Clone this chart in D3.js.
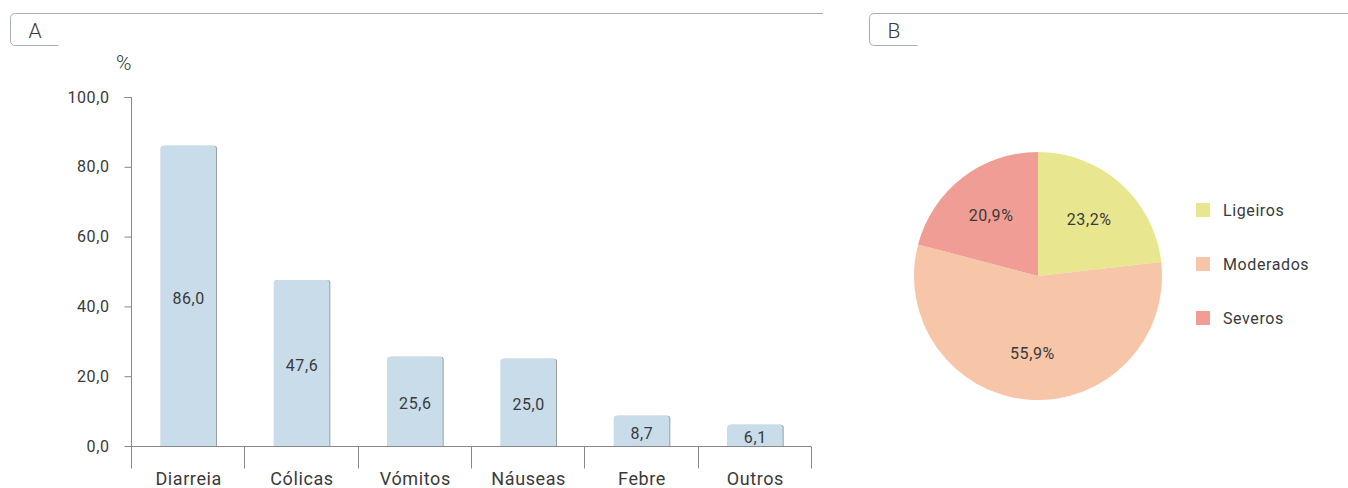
<!DOCTYPE html>
<html>
<head>
<meta charset="utf-8">
<script src="https://cdn.jsdelivr.net/npm/d3@7"></script>
<style>
  body { margin: 0; background: #fff; }
  text { font-family: Roboto, "Open Sans", sans-serif; fill: #3a3a3a; letter-spacing: 0.6px; }
</style>
</head>
<body>
<div id="vis"></div>
<script>
// bar chart (A)
var categories = ["Diarreia", "Cólicas", "Vómitos", "Náuseas", "Febre", "Outros"];
var values = [86.0, 47.6, 25.6, 25.0, 8.7, 6.1];
var yTicks = [0, 20, 40, 60, 80, 100];

// pie chart (B)
var pieLabels = ["Ligeiros", "Moderados", "Severos"];
var pieValues = [23.2, 55.9, 20.9];
var pieColors = ["#e8e78f", "#f7c5a8", "#f09d96"];

var W = 1348, H = 488;
var svg = d3.select("#vis").append("svg")
  .attr("width", W).attr("height", H);

var fmt = function(v){ return v.toFixed(1).replace(".", ","); };

// panel headers
function panelHeader(x0, x1, label) {
  var g = svg.append("g");
  g.append("path")
    .attr("d", "M" + x1 + ",13.5 H" + (x0 + 5) + " Q" + x0 + ",13.5 " + x0 + ",18.5 V40.5 Q" + x0 + ",45.5 " + (x0 + 5) + ",45.5 H" + (x0 + 48))
    .attr("fill", "none").attr("stroke", "#a8adb3").attr("stroke-width", 1);
  g.append("text").attr("x", x0 + 18).attr("y", 38)
    .attr("font-size", 21).attr("font-weight", 300).text(label);
}
panelHeader(10.5, 823, "A");
panelHeader(869.5, 1348, "B");

// ---- bars
var x = d3.scaleBand().domain(categories).range([131, 811]).paddingInner(0.5).paddingOuter(0.25);
var y = d3.scaleLinear().domain([0, 100]).range([446, 97]);

var yAxis = svg.append("g").attr("transform", "translate(131.5,0)")
  .call(d3.axisLeft(y).tickValues(yTicks).tickSize(7).tickFormat(fmt));
yAxis.select(".domain").attr("stroke", "#888").attr("d", "M-7,97.5H0V446.5");
yAxis.selectAll(".tick line").attr("stroke", "#888");
yAxis.selectAll(".tick text").attr("font-size", 16).attr("fill", "#3a3a3a")
  .attr("font-family", "Roboto, sans-serif").attr("x", -22);

svg.append("text").attr("x", 124).attr("y", 70).attr("text-anchor", "middle")
  .attr("font-size", 21).attr("font-weight", 300).text("%");

function barPath(bx, bw, by) {
  var r = 3;
  return "M" + bx + ",446V" + (by + r) + "Q" + bx + "," + by + " " + (bx + r) + "," + by +
    "H" + (bx + bw - r) + "Q" + (bx + bw) + "," + by + " " + (bx + bw) + "," + (by + r) + "V446Z";
}

var bars = svg.append("g");
bars.selectAll("path.shadow")
  .data(values).enter().append("path")
  .attr("class", "shadow")
  .attr("d", function(d, i){ return barPath(x(categories[i]) + 2, x.bandwidth() - 1, y(d)); })
  .attr("fill", "#9a9fa4");
bars.selectAll("path.bar")
  .data(values).enter().append("path")
  .attr("class", "bar")
  .attr("d", function(d, i){ return barPath(x(categories[i]) + 1, x.bandwidth() - 1, y(d)); })
  .attr("fill", "#c8dcea");
bars.selectAll("text")
  .data(values).enter().append("text")
  .attr("x", function(d, i){ return x(categories[i]) + x.bandwidth() / 2 + 1; })
  .attr("y", function(d){ return (y(d) + 446) / 2 + 8; })
  .attr("text-anchor", "middle").attr("font-size", 16)
  .text(fmt);

var xAxis = svg.append("g").attr("transform", "translate(0,446.5)");
xAxis.append("line").attr("x1", 131).attr("x2", 811).attr("stroke", "#888");
var bounds = d3.range(categories.length + 1).map(function(i){ return 131 + i * (680 / categories.length); });
xAxis.selectAll("line.t").data(bounds).enter().append("line")
  .attr("class", "t")
  .attr("x1", function(d){ return Math.round(d) + 0.5; })
  .attr("x2", function(d){ return Math.round(d) + 0.5; })
  .attr("y1", 0).attr("y2", 22).attr("stroke", "#888");
xAxis.selectAll("text").data(categories).enter().append("text")
  .attr("x", function(d){ return x(d) + x.bandwidth() / 2 + 1; })
  .attr("y", 38).attr("text-anchor", "middle").attr("font-size", 18)
  .text(function(d){ return d; });

// ---- pie
var cx = 1038, cy = 276, R = 124;
var pie = d3.pie().sort(null)(pieValues);
var arc = d3.arc().innerRadius(0).outerRadius(R);
var labelArc = d3.arc().innerRadius(R * 0.62).outerRadius(R * 0.62);
var pg = svg.append("g").attr("transform", "translate(" + cx + "," + cy + ")");
pg.selectAll("path").data(pie).enter().append("path")
  .attr("d", arc)
  .attr("fill", function(d, i){ return pieColors[i]; });
pg.selectAll("text").data(pie).enter().append("text")
  .attr("transform", function(d){ return "translate(" + labelArc.centroid(d) + ")"; })
  .attr("dy", 6).attr("text-anchor", "middle").attr("font-size", 16)
  .text(function(d){ return fmt(d.data) + "%"; });

var lg = svg.append("g");
lg.selectAll("rect").data(pieLabels).enter().append("rect")
  .attr("x", 1196).attr("y", function(d, i){ return 203 + i * 54; })
  .attr("width", 14).attr("height", 14)
  .attr("fill", function(d, i){ return pieColors[i]; });
lg.selectAll("text").data(pieLabels).enter().append("text")
  .attr("x", 1223).attr("y", function(d, i){ return 216 + i * 54; })
  .attr("font-size", 16).text(function(d){ return d; });
</script>
</body>
</html>
